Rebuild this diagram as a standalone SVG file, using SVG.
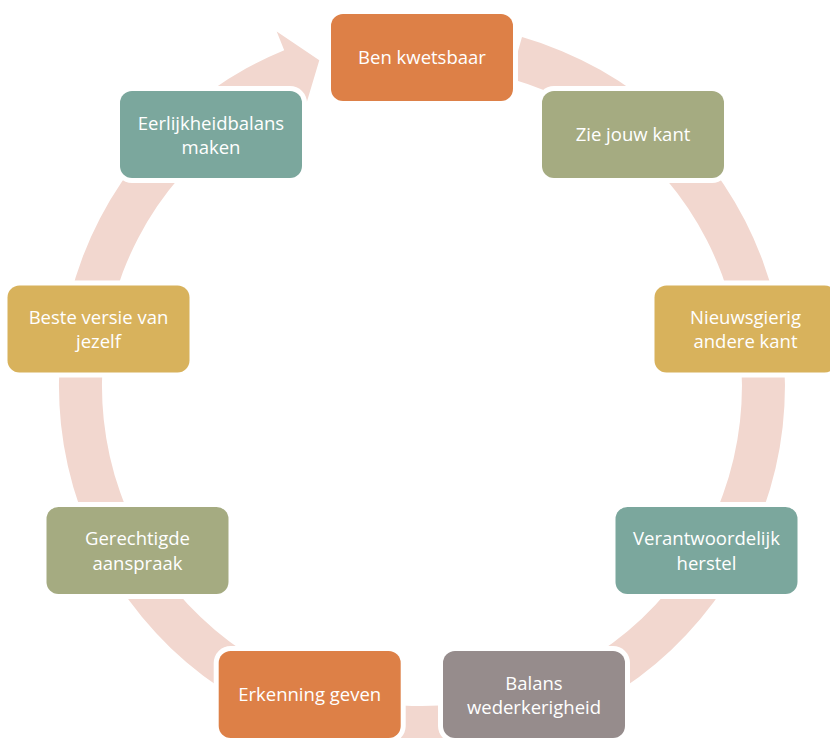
<svg xmlns="http://www.w3.org/2000/svg" width="830" height="738" viewBox="0 0 830 738">
<style>
.halo{fill:#FFFFFF}
.box{stroke:none}
.t{font-family:"Open Sans","Noto Sans","Liberation Sans",sans-serif;font-size:18.5px;fill:#FFFFFF;text-anchor:middle}
.c1{fill:#DD8047}.c2{fill:#A5AB81}.c3{fill:#D8B25C}.c4{fill:#7BA79D}.c5{fill:#968C8C}
</style>
<rect width="830" height="738" fill="#FFFFFF"/>
<g id="connectors">
<path d="M 522.0,37.1 A 363 363 0 1 1 284.2,50.2 L 276.7,31.6 L 319.3,60.3 L 306.3,103.8 L 300.6,89.9 A 320 320 0 1 0 510.2,78.4 Z" fill="#F2D7CF"/>
</g>
<g id="node1">
<rect class="halo" x="326" y="9" width="192" height="97" rx="17"/>
<rect class="box c1" x="331" y="14" width="182" height="87" rx="12"/>
<text class="t" x="422" y="63.5">Ben kwetsbaar</text>
</g>
<g id="node2">
<rect class="halo" x="537" y="86" width="192" height="97" rx="17"/>
<rect class="box c2" x="542" y="91" width="182" height="87" rx="12"/>
<text class="t" x="633" y="140.5">Zie jouw kant</text>
</g>
<g id="node3">
<rect class="halo" x="649.5" y="280.5" width="192" height="97" rx="17"/>
<rect class="box c3" x="654.5" y="285.5" width="182" height="87" rx="12"/>
<text class="t" x="745.5" y="323.5">Nieuwsgierig</text>
<text class="t" x="745.5" y="348">andere kant</text>
</g>
<g id="node4">
<rect class="halo" x="610.5" y="502" width="192" height="97" rx="17"/>
<rect class="box c4" x="615.5" y="507" width="182" height="87" rx="12"/>
<text class="t" x="706.5" y="545">Verantwoordelijk</text>
<text class="t" x="706.5" y="569.5">herstel</text>
</g>
<g id="node5">
<rect class="halo" x="438" y="646" width="192" height="97" rx="17"/>
<rect class="box c5" x="443" y="651" width="182" height="87" rx="12"/>
<text class="t" x="534" y="689.5">Balans</text>
<text class="t" x="534" y="714">wederkerigheid</text>
</g>
<g id="node6">
<rect class="halo" x="213.7" y="646" width="192" height="97" rx="17"/>
<rect class="box c1" x="218.7" y="651" width="182" height="87" rx="12"/>
<text class="t" x="309.7" y="701">Erkenning geven</text>
</g>
<g id="node7">
<rect class="halo" x="41.5" y="502" width="192" height="97" rx="17"/>
<rect class="box c2" x="46.5" y="507" width="182" height="87" rx="12"/>
<text class="t" x="137.5" y="545">Gerechtigde</text>
<text class="t" x="137.5" y="569.5">aanspraak</text>
</g>
<g id="node8">
<rect class="halo" x="2.5" y="280.5" width="192" height="97" rx="17"/>
<rect class="box c3" x="7.5" y="285.5" width="182" height="87" rx="12"/>
<text class="t" x="98.5" y="323.5">Beste versie van</text>
<text class="t" x="98.5" y="348">jezelf</text>
</g>
<g id="node9">
<rect class="halo" x="115" y="86" width="192" height="97" rx="17"/>
<rect class="box c4" x="120" y="91" width="182" height="87" rx="12"/>
<text class="t" x="211" y="129.5">Eerlijkheidbalans</text>
<text class="t" x="211" y="154">maken</text>
</g>
</svg>
